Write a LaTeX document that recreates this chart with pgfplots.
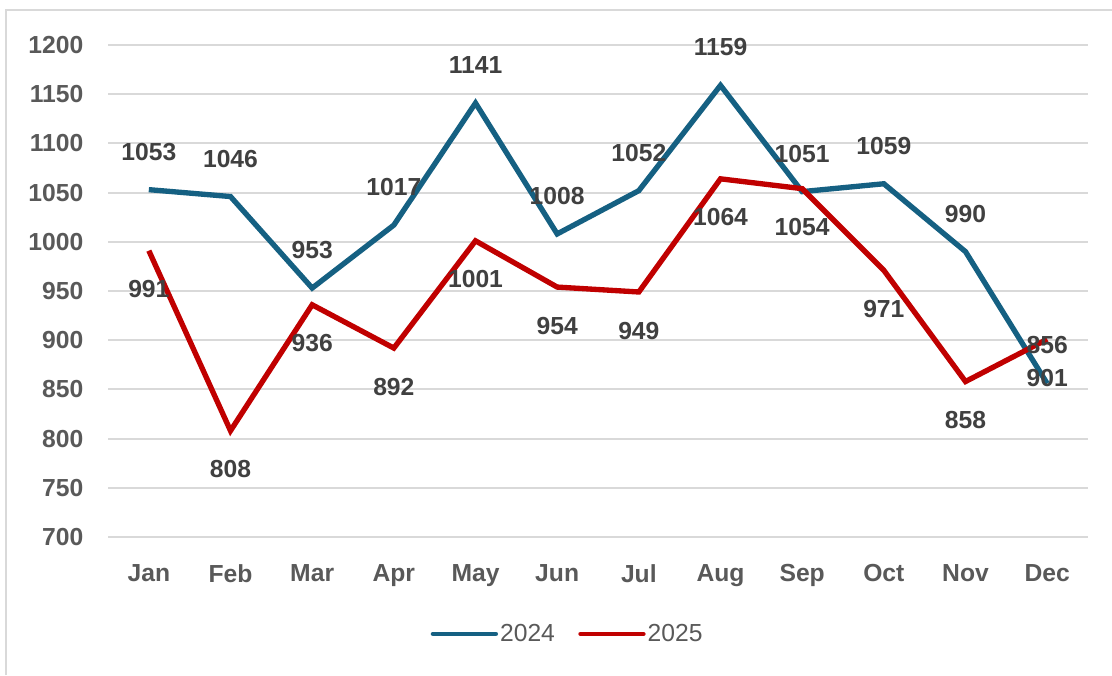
\documentclass[border=0pt]{standalone}
\usepackage{pgfplots}
\pgfplotsset{compat=1.18}
\usepackage{fontspec}
\setmainfont{Liberation Sans}
\definecolor{s2024}{RGB}{21,96,130}
\definecolor{s2025}{RGB}{192,0,0}
\definecolor{gridc}{RGB}{217,217,217}
\definecolor{tickc}{RGB}{89,89,89}
\definecolor{labc}{RGB}{64,64,64}
\begin{document}
\begin{tikzpicture}
% canvas 1112x675 px, 1px = 0.75pt
\useasboundingbox (0,0) rectangle (834pt,-506.25pt);
\draw[gridc, line width=1.5pt] (4.5pt,-506.25pt) |- (834pt,-7.5pt);
\begin{axis}[
  scale only axis, width=735pt, height=369pt,
  at={(81pt,-402.75pt)}, anchor=south west,
  xmin=-0.5, xmax=11.5, ymin=700, ymax=1200,
  xtick={0,...,11},
  xticklabels={Jan,Feb,Mar,Apr,May,Jun,Jul,Aug,Sep,Oct,Nov,Dec},
  ytick={700,750,...,1200},
  axis line style={draw=none}, major tick length=0pt,
  ymajorgrids, grid style={gridc, line width=1.5pt},
  font=\fontsize{18.5pt}{21pt}\selectfont\bfseries,
  tick label style={text=tickc},
  yticklabel style={xshift=-15pt},
  xticklabel style={yshift=-17pt},
  /pgf/number format/assume math mode=true,
  /pgf/number format/1000 sep={},
  legend style={at={(0.469,-0.197)}, anchor=center, draw=none, fill=none,
    legend columns=2, font=\fontsize{18.5pt}{21pt}\selectfont\mdseries, text=tickc,
    nodes={inner xsep=1.5pt},
    /tikz/every even column/.append style={column sep=16pt}},
  legend image code/.code={\draw[#1, line cap=round, line width=3.5pt] (0pt,0pt) -- (47pt,0pt);},
  nodes near coords,
  every node near coord/.append style={text=labc, anchor=center,
    font=\fontsize{18.5pt}{21pt}\selectfont\bfseries},
  clip=false,
]
\addplot[s2024, line width=4pt, nodes near coords style={yshift=28.5pt}] coordinates {
  (0,1053) (1,1046) (2,953) (3,1017) (4,1141) (5,1008)
  (6,1052) (7,1159) (8,1051) (9,1059) (10,990) (11,856)};
\addplot[s2025, line width=4pt, nodes near coords style={yshift=-29pt}] coordinates {
  (0,991) (1,808) (2,936) (3,892) (4,1001) (5,954)
  (6,949) (7,1064) (8,1054) (9,971) (10,858) (11,901)};
\legend{2024,2025}
\end{axis}
\end{tikzpicture}
\end{document}
